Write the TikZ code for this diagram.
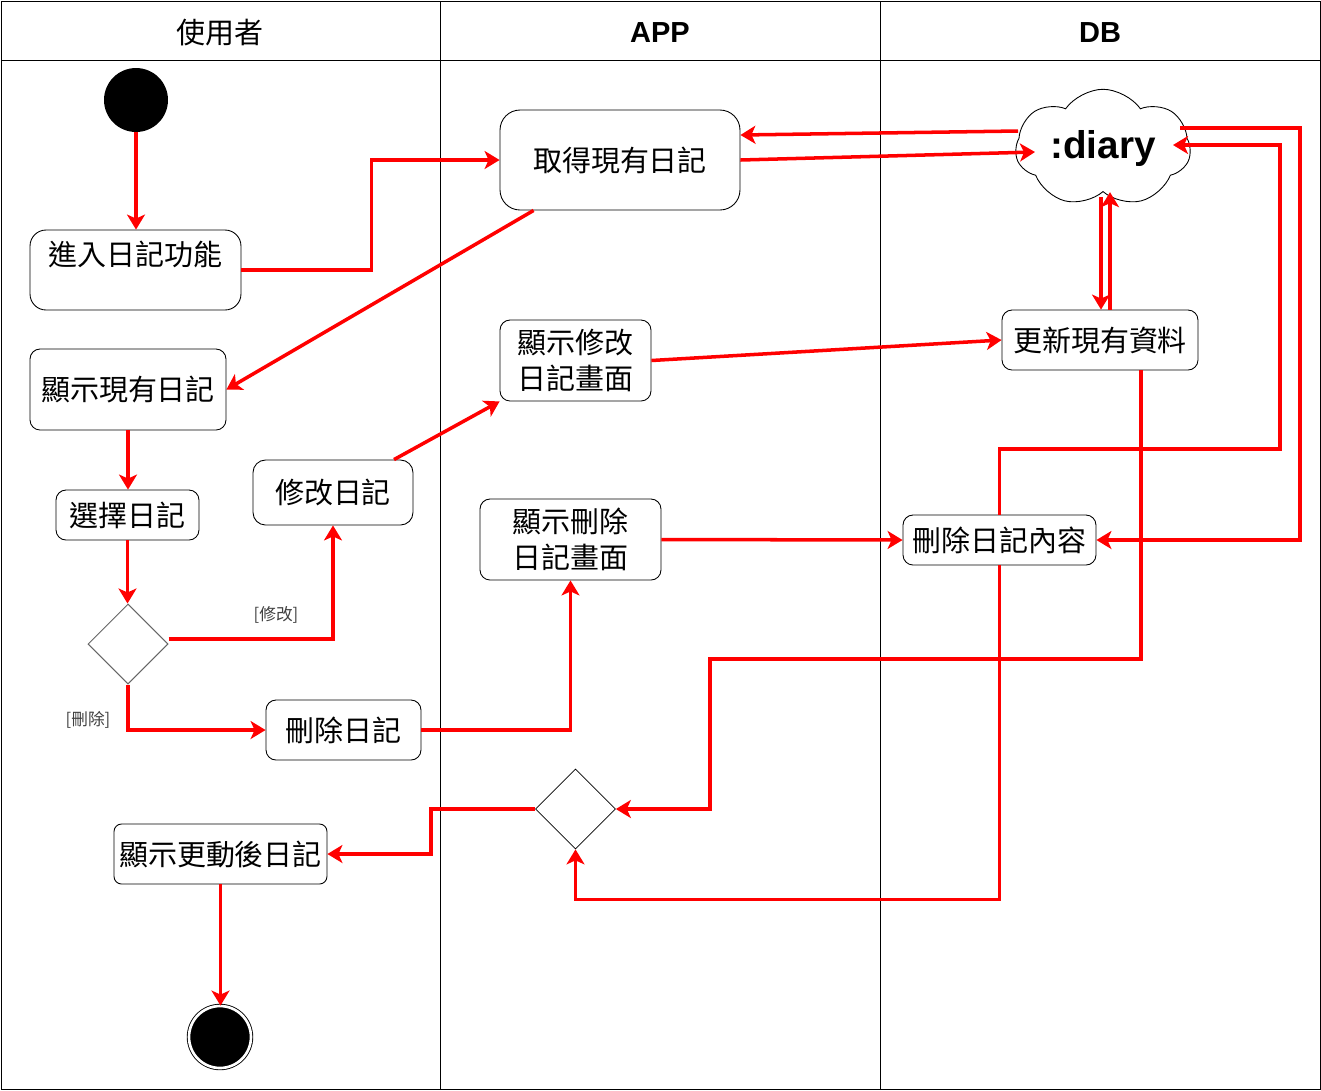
\documentclass[tikz,border=0pt]{standalone}
\usepackage{fontspec}
\setmainfont{Liberation Sans}
\newfontfamily\cjk{Noto Sans CJK TC}
\usepackage{tikz}
\usetikzlibrary{calc,arrows.meta,shapes.geometric,shapes.symbols}

\begin{document}
\begin{tikzpicture}[x=0.02cm,y=-0.02cm]
                      \tikzstyle{act}=[draw=black,line width=0.5pt,rounded corners=0.2cm,fill=white,font=\cjk\fontsize{16.5}{20.5}\selectfont,align=center,inner sep=0pt]
                      \tikzstyle{flow}=[draw=red,line width=2pt,-{Stealth[length=0.3cm,width=0.36cm,inset=0.08cm]}]
                      \tikzstyle{lane}=[draw=black,line width=0.45pt]
                      \tikzstyle{guard}=[font=\cjk\fontsize{9.5}{11}\selectfont,text=black!75,inner sep=0pt]
                      \tikzstyle{choice}=[diamond,minimum width=1.6cm,minimum height=1.6cm,inner sep=0pt,fill=white]
                      \useasboundingbox (0,0) rectangle (1321,1090);
                      \draw[lane] (1,1) rectangle (1320,1089);
                      \draw[lane] (1,60) -- (1320,60);
                      \draw[lane] (440,1) -- (440,1089);
                      \draw[lane] (880,1) -- (880,1089);
                      \node (hUser) at (220,33) [font=\cjk\fontsize{16.5}{20}\selectfont] {使用者};
                      \node (hApp) at (660,33) [font=\bfseries\fontsize{16.5}{20}\selectfont] {APP};
                      \node (hDb) at (1100,33) [font=\bfseries\fontsize{16.5}{20}\selectfont] {DB};
                      \node (start) at (136,100) [circle,fill=black,minimum size=1.28cm,inner sep=0pt] {};
                      \node (enter) at (135.5,270) [act,rounded corners=0.32cm,minimum width=4.22cm,minimum height=1.6cm,text depth=0.66cm] {進入日記功能};
                      \node (fetch) at (620,160) [act,rounded corners=0.4cm,minimum width=4.8cm,minimum height=2cm] {取得現有日記};
                      \node (show) at (128,389.5) [act,minimum width=3.92cm,minimum height=1.62cm] {顯示現有日記};
                      \node (select) at (127.5,515) [act,minimum width=2.86cm,minimum height=1cm] {選擇日記};
                      \node (dec1) at (128,644) [choice,draw=black!60,line width=0.6pt] {};
                      \node (modify) at (333,492.5) [act,rounded corners=0.25cm,minimum width=3.2cm,minimum height=1.3cm] {修改日記};
                      \node (delete) at (343.5,730) [act,minimum width=3.1cm,minimum height=1.2cm] {刪除日記};
                      \node (showmod) at (575.5,360.5) [act,minimum width=3.02cm,minimum height=1.62cm] {顯示修改\\日記畫面};
                      \node (showdel) at (570.5,539.5) [act,minimum width=3.62cm,minimum height=1.62cm] {顯示刪除\\日記畫面};
                      \node (diary) at (1103,148) [cloud,cloud puffs=7,cloud puff arc=110,aspect=1.6,draw=black,fill=white,line width=0.5pt,minimum width=3.5cm,minimum height=2.26cm,inner sep=0pt,font=\bfseries\fontsize{22}{26}\selectfont] {:diary};
                      \node (update) at (1100,340) [act,minimum width=3.92cm,minimum height=1.2cm] {更新現有資料};
                      \node (deldb) at (999.5,540) [act,minimum width=3.86cm,minimum height=1cm] {刪除日記內容};
                      \node (dec2) at (575.5,809) [choice,draw=black,line width=0.4pt] {};
                      \node (result) at (220.5,854) [act,rounded corners=0.15cm,minimum width=4.26cm,minimum height=1.2cm] {顯示更動後日記};
                      \node (end) at (220,1037) [circle,draw=black,double=white,double distance=1.5pt,line width=0.5pt,fill=black,minimum size=1.24cm,inner sep=0pt] {};
                      \node (gMod) at (276,615) [guard] {[修改]};
                      \node (gDel) at (88,720) [guard] {[刪除]};
                      \draw[flow] (start.south) -- (start.south |- enter.north);
                      \draw[flow] (enter.east) -- ++(130,0) |- (fetch.west);
                      \draw[flow] ($(fetch.south west)+(34,0)$) -- (show.east);
                      \draw[flow] ($(diary.center)+(-85,-17)$) -- ($(fetch.east)+(0,-25)$);
                      \draw[flow] (fetch.east) -- ($(diary.center)+(-68,4)$);
                      \draw[flow] (show.south) -- (show.south |- select.north);
                      \draw[flow] (select.south) -- (select.south |- dec1.north);
                      \draw[flow] ($(dec1.east)+(0,-5)$) -| (modify.south);
                      \draw[flow] (dec1.south) |- (delete.west);
                      \draw[flow] ($(modify.north)+(61,0)$) -- (showmod.south west);
                      \draw[flow] (delete.east) -| (showdel.south);
                      \draw[flow] (showmod.east) -- (update.west);
                      \draw[flow] (showdel.east) -- (deldb.west);
                      \draw[flow] ($(update.north)+(10,0)$) -- ($(update.north |- diary.south)+(10,0)$);
                      \draw[flow] ($(update.north |- diary.south)+(1,5)$) -- ($(update.north)+(1,0)$);
                      \draw[flow] ($(update.south)+(41,0)$) |- (710,659) |- (dec2.east);
                      \draw[flow] ($(diary.center)+(77,-20)$) -- ++(120,0) |- (deldb.east);
                      \draw[flow] (deldb.north) |- (1280,449) |- ($(diary.center)+(70,-3)$);
                      \draw[flow] (deldb.south) -- ++(0,334) -| (dec2.south);
                      \draw[flow] (dec2.west) -- ++(-104,0) |- (result.east);
                      \draw[flow] (result.south) -- (result.south |- end.north);
                  \end{tikzpicture}
\end{document}
